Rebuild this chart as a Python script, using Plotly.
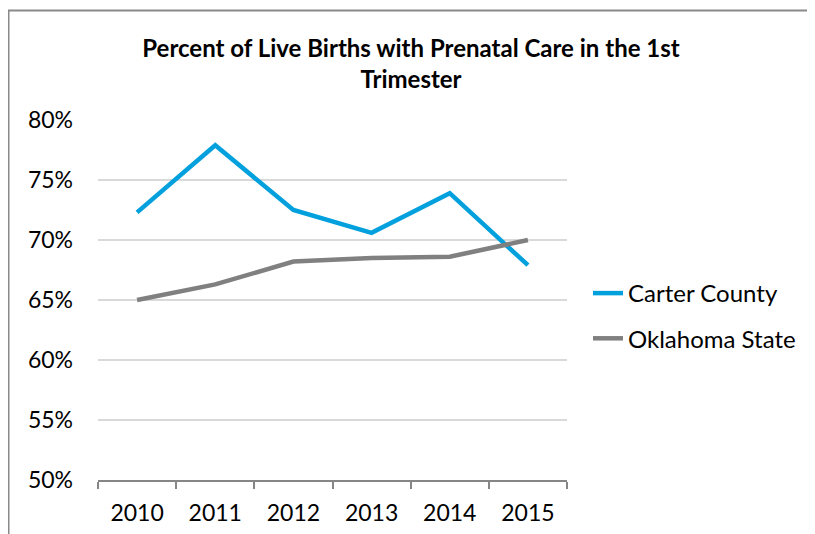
import plotly.graph_objects as go

years = ["2010", "2011", "2012", "2013", "2014", "2015"]
carter_county = [0.723, 0.779, 0.725, 0.706, 0.739, 0.679]
oklahoma_state = [0.650, 0.663, 0.682, 0.685, 0.686, 0.700]
y_ticks = [0.50, 0.55, 0.60, 0.65, 0.70, 0.75, 0.80]
y_tick_labels = ["50%", "55%", "60%", "65%", "70%", "75%", "80%"]

W, H = 815, 534
OFF = 8  # page body margin
# plot area in screen pixels
SL, SR, ST, SB = 98, 567, 120, 480
L, R, T, B = SL - OFF, SR - OFF, ST - OFF, SB - OFF
FONT = "Lato"


def px_x(sx):
    return (sx - OFF - L) / (R - L)


def px_y(sy):
    return (B - (sy - OFF)) / (B - T)


fig = go.Figure()
fig.add_trace(go.Scatter(x=years, y=carter_county, name="Carter County", mode="lines",
                         line=dict(color="#02a0dc", width=4.5), legendgroup="a"))
fig.add_trace(go.Scatter(x=years, y=oklahoma_state, name="Oklahoma State", mode="lines",
                         line=dict(color="#808080", width=4.5), legendgroup="b"))

fig.update_layout(
    width=W, height=H,
    margin=dict(l=L, r=W - R, t=T, b=H - B),
    paper_bgcolor="white", plot_bgcolor="white",
    font=dict(family=FONT, size=23, color="#000000"),
    title=dict(text="<b>Percent of Live Births with Prenatal Care in the 1st<br>Trimester</b>",
               x=(411 - OFF) / W, xanchor="center", xref="container",
               y=1 - 49 / H, yanchor="top", yref="container",
               font=dict(family=FONT, size=24, color="#000000")),
    xaxis=dict(type="category", range=[-0.5, 5.5], showgrid=False, showline=True,
               linecolor="#868686", linewidth=1.5,
               ticks="outside", tickson="boundaries", ticklen=7, tickcolor="#868686", tickwidth=1.5,
               ticklabelstandoff=12, tickfont=dict(size=23)),
    yaxis=dict(range=[0.5, 0.8], tickvals=y_ticks, ticktext=y_tick_labels, showgrid=True,
               gridcolor="#d9d9d9", gridwidth=1.5, zeroline=False, showline=False, ticks="",
               ticklabelstandoff=24, tickfont=dict(size=23)),
    legend=dict(x=px_x(588), xanchor="left", y=px_y(271), yanchor="top",
                font=dict(size=24), tracegroupgap=11, traceorder="grouped",
                bgcolor="rgba(0,0,0,0)"),
    shapes=[dict(type="rect", xref="paper", yref="paper",
                 x0=px_x(8.5), x1=px_x(812), y0=px_y(560), y1=px_y(10.5),
                 line=dict(color="#898989", width=2), fillcolor="rgba(0,0,0,0)", layer="below")],
)

fig.write_html("out.html")
